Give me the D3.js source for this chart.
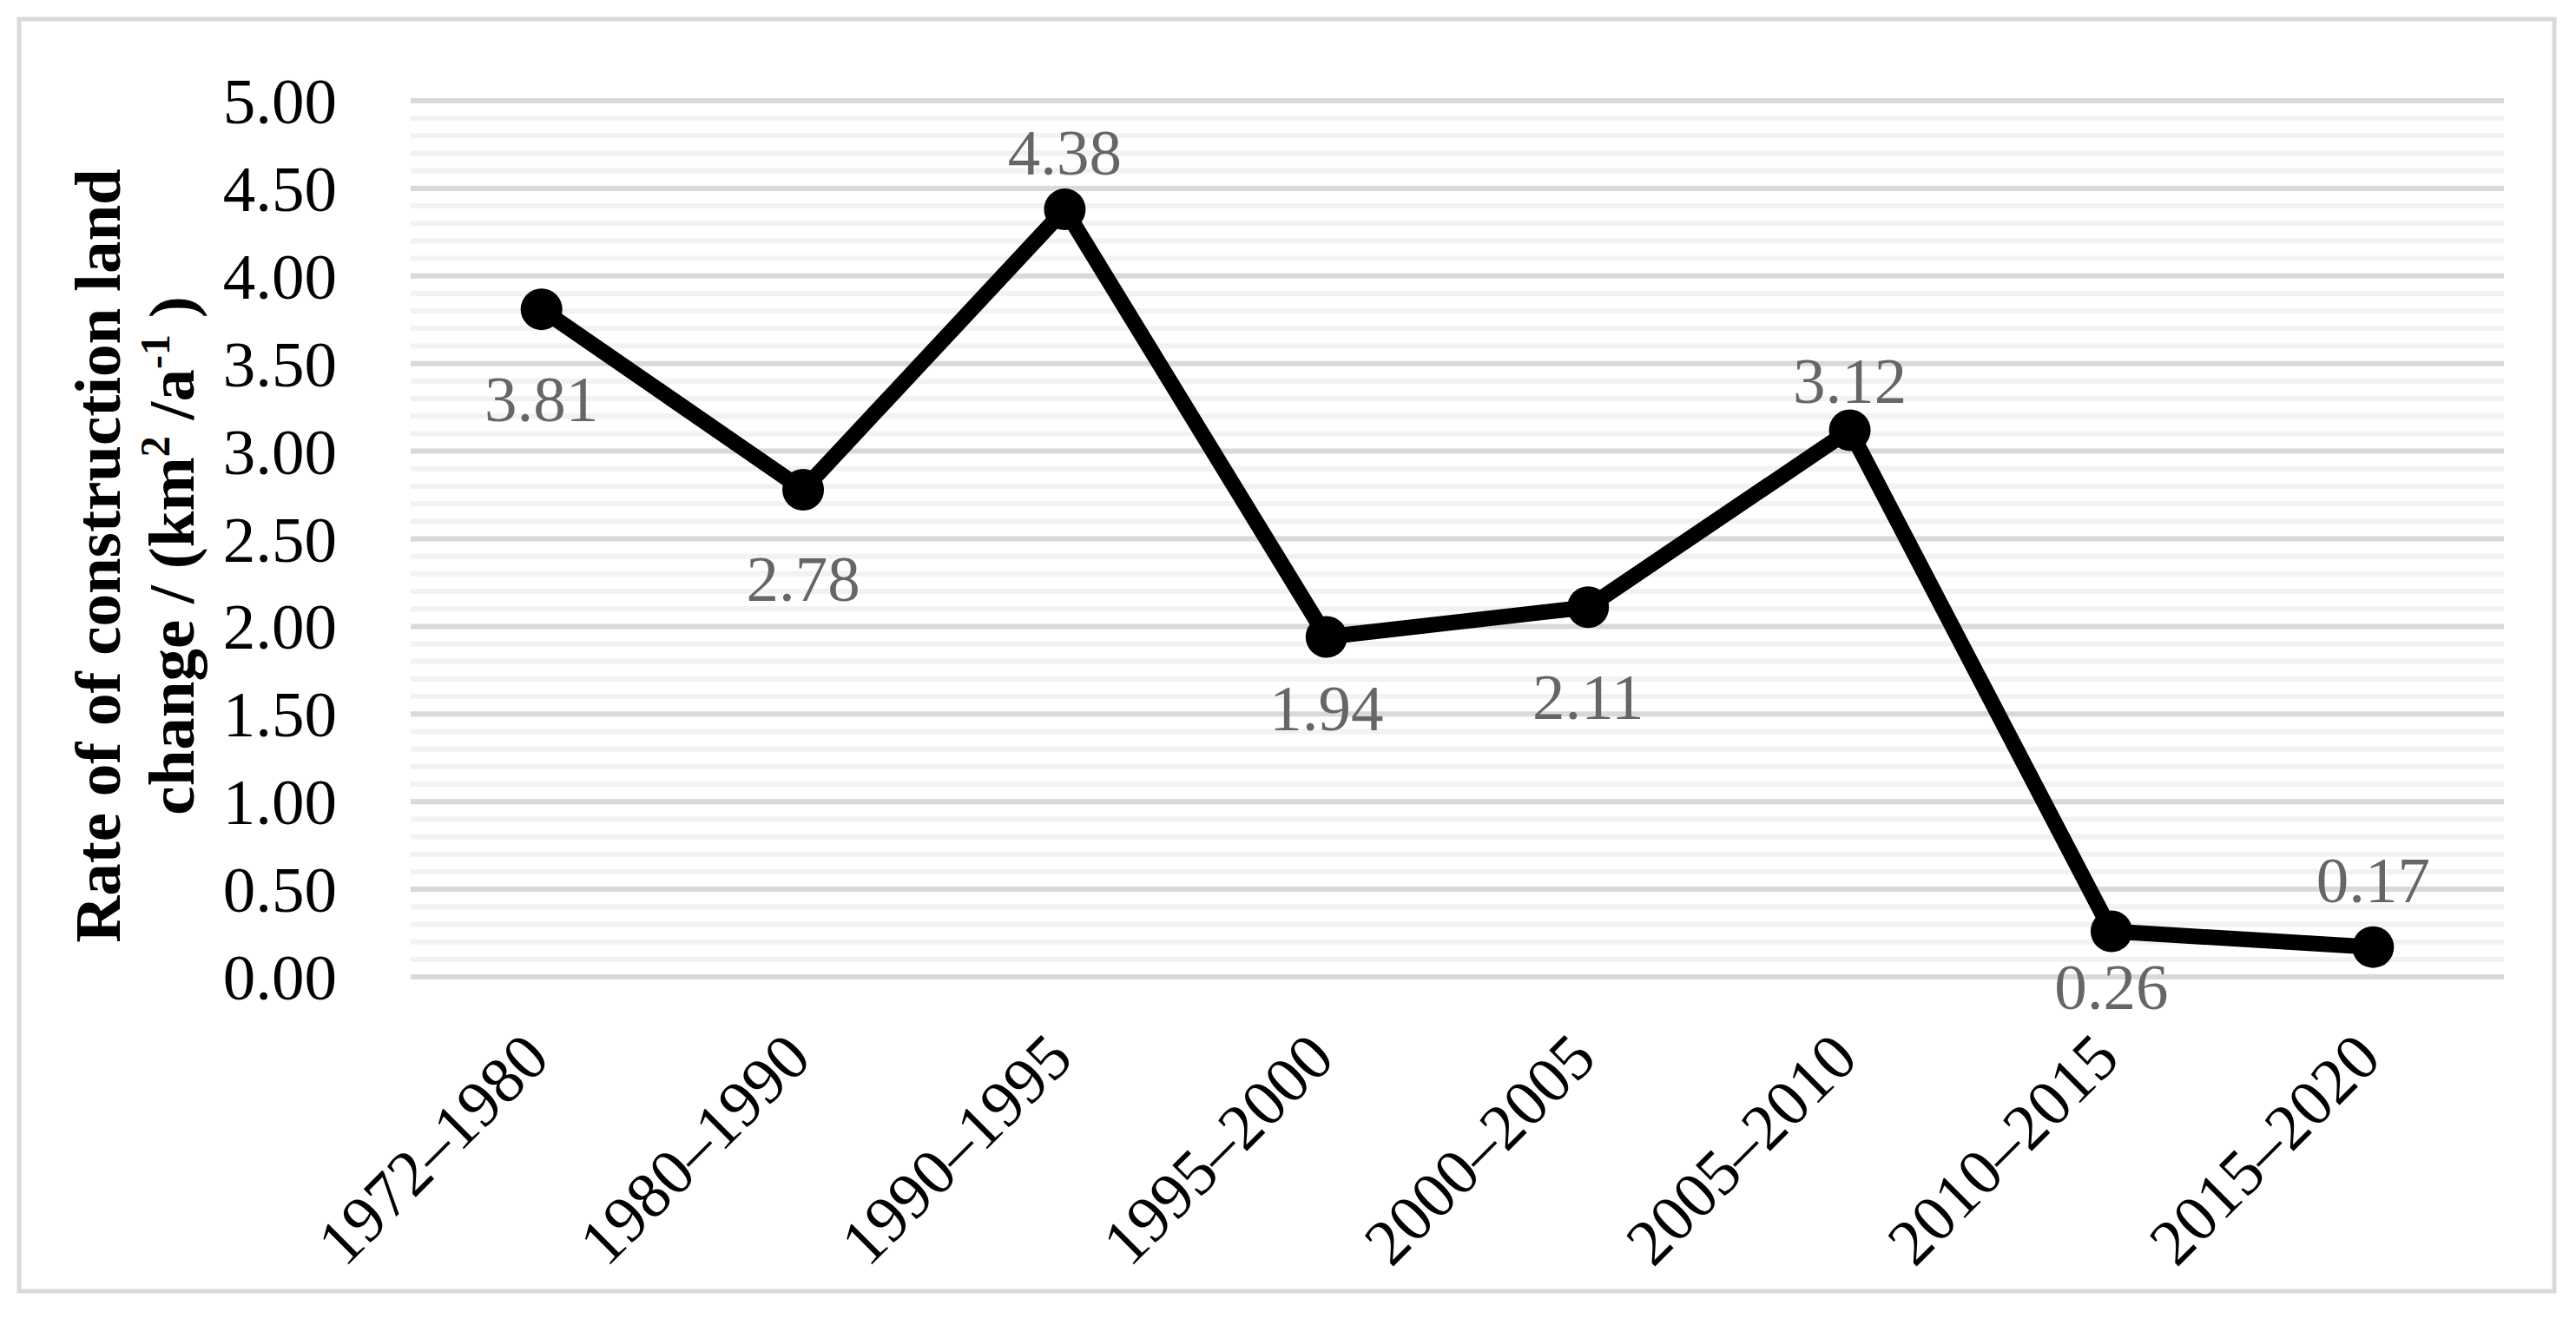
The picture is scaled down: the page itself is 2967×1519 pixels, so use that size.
<!DOCTYPE html>
<html>
<head>
<meta charset="utf-8">
<script src="https://cdn.jsdelivr.net/npm/d3@7"></script>
<style>
  body { margin: 0; background: #fff; }
  svg { display: block; font-family: "Liberation Serif", "Times New Roman", serif; }
</style>
</head>
<body>
<div id="chart"></div>
<script>
const svgWidth = 2967;
const svgHeight = 1519;

// data
const periods = ["1972\u20131980", "1980\u20131990", "1990\u20131995", "1995\u20132000",
                 "2000\u20132005", "2005\u20132010", "2010\u20132015", "2015\u20132020"];
const rates = [3.81, 2.78, 4.38, 1.94, 2.11, 3.12, 0.26, 0.17];
const yTicks = [0, 0.5, 1, 1.5, 2, 2.5, 3, 3.5, 4, 4.5, 5];

// layout
const plotLeft = 473;
const plotRight = 2884;
const plotTop = 116;
const plotBottom = 1125;
const fontSize = 75;
// vertical shift of each data label's baseline from its marker (as placed in the original)
const labelOffset = [129, 128, -40, 107, 129, -31, 89, -52];

const xScale = d3.scaleBand().domain(periods).range([plotLeft, plotRight]);
const yScale = d3.scaleLinear().domain([0, 5]).range([plotBottom, plotTop]);
const cx = d => xScale(d) + xScale.bandwidth() / 2;

const svg = d3.select("#chart")
    .append("svg")
    .attr("width", svgWidth)
    .attr("height", svgHeight);

// chart border
svg.append("rect")
    .attr("x", 22)
    .attr("y", 22)
    .attr("width", 2920)
    .attr("height", 1465)
    .attr("fill", "#fff")
    .attr("stroke", "#d9d9d9")
    .attr("stroke-width", 5);

// gridlines, minor first then major
const majorSet = new Set(yTicks.map(d => d.toFixed(2)));
const minor = yScale.ticks(50).filter(d => !majorSet.has(d.toFixed(2)));

svg.append("g")
    .selectAll("line")
    .data(minor)
    .enter()
    .append("line")
    .attr("x1", plotLeft)
    .attr("x2", plotRight)
    .attr("y1", d => yScale(d))
    .attr("y2", d => yScale(d))
    .attr("stroke", "#f2f2f2")
    .attr("stroke-width", 6);

svg.append("g")
    .selectAll("line")
    .data(yTicks)
    .enter()
    .append("line")
    .attr("x1", plotLeft)
    .attr("x2", plotRight)
    .attr("y1", d => yScale(d))
    .attr("y2", d => yScale(d))
    .attr("stroke", "#d9d9d9")
    .attr("stroke-width", 6);

// y axis
const yAxis = d3.axisLeft(yScale)
    .tickValues(yTicks)
    .tickFormat(d3.format(".2f"))
    .tickSize(0)
    .tickPadding(85);

svg.append("g")
    .attr("transform", `translate(${plotLeft}, 0)`)
    .call(yAxis)
    .call(g => g.select(".domain").remove())
    .selectAll("text")
    .attr("font-family", "Liberation Serif")
    .attr("font-size", fontSize)
    .attr("fill", "#000")
    .attr("dy", "0.34em");

// x axis
const xAxis = d3.axisBottom(xScale).tickSize(0);

svg.append("g")
    .attr("transform", `translate(0, ${plotBottom})`)
    .call(xAxis)
    .call(g => g.select(".domain").remove())
    .selectAll("text")
    .attr("font-family", "Liberation Serif")
    .attr("font-size", fontSize)
    .attr("fill", "#000")
    .attr("x", 0)
    .attr("y", 0)
    .attr("dy", 0)
    .attr("text-anchor", "end")
    .attr("transform", "translate(12, 97) rotate(-45)");

// y title
const title = svg.append("text")
    .attr("transform", "translate(138, 640) rotate(-90)")
    .attr("text-anchor", "middle")
    .attr("font-weight", "bold")
    .attr("font-size", fontSize)
    .attr("fill", "#000");
title.append("tspan")
    .attr("x", 0)
    .attr("y", 0)
    .text("Rate of of construction land");
const line2 = title.append("tspan")
    .attr("x", 0)
    .attr("y", 85);
line2.append("tspan").text("change  / (km");
line2.append("tspan").attr("font-size", 48).attr("dy", -28).text("2");
line2.append("tspan").attr("dy", 28).text(" /a");
line2.append("tspan").attr("font-size", 48).attr("dy", -28).text("-1");
line2.append("tspan").attr("dy", 28).text(" )");

// line and markers
const line = d3.line()
    .x((d, i) => cx(periods[i]))
    .y(d => yScale(d));

svg.append("path")
    .datum(rates)
    .attr("d", line)
    .attr("fill", "none")
    .attr("stroke", "#000")
    .attr("stroke-width", 18)
    .attr("stroke-linejoin", "round");

svg.append("g")
    .selectAll("circle")
    .data(rates)
    .enter()
    .append("circle")
    .attr("cx", (d, i) => cx(periods[i]))
    .attr("cy", d => yScale(d))
    .attr("r", 24)
    .attr("fill", "#000");

// data labels
svg.append("g")
    .selectAll("text")
    .data(rates)
    .enter()
    .append("text")
    .attr("x", (d, i) => cx(periods[i]))
    .attr("y", (d, i) => yScale(d) + labelOffset[i])
    .attr("text-anchor", "middle")
    .attr("font-size", fontSize)
    .attr("fill", "#666666")
    .text(d => d.toFixed(2));
</script>
</body>
</html>
